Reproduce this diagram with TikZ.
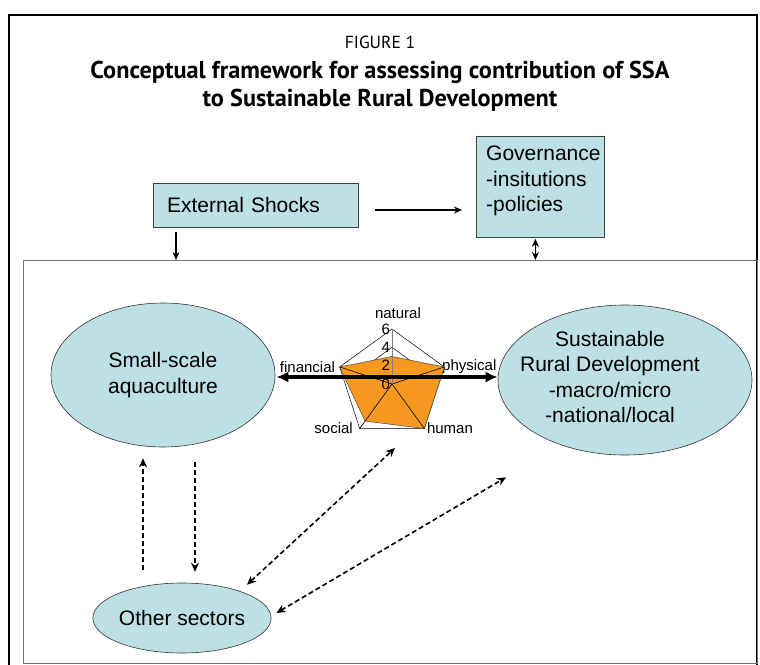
\documentclass[tikz,border=0pt]{standalone}
\usepackage{fontspec}
\setmainfont{Liberation Sans}
\newfontfamily\titlefont{PT Sans}
\usepackage{tikz}
\usetikzlibrary{arrows.meta,shapes.geometric,calc}
\definecolor{boxblue}{RGB}{189,224,228}
\definecolor{radarorange}{RGB}{247,152,32}
\newcommand\bodytext{\fontsize{21}{25.5}\selectfont}

\begin{document}
\begin{tikzpicture}[x=1pt,y=-1pt,
  box/.style={draw=black!75,fill=boxblue,line width=0.8pt},
  oval/.style={ellipse,draw=black!80,fill=boxblue,line width=0.6pt,inner sep=0pt,align=center,font=\bodytext},
  arr/.style={-{Stealth[length=8pt,width=7pt]},line width=1.4pt},
  flow/.style={dash pattern=on 5pt off 3pt,line width=1.6pt},
  bigarr/.style={{Latex[length=12pt,width=11pt]}-{Latex[length=12pt,width=11pt]},line width=3.5pt},
  axlab/.style={font=\fontsize{15}{15}\selectfont,inner sep=0pt}]
\useasboundingbox (0,0) rectangle (760,664);
\draw[line width=1.8pt] (9,680) -- (9,15) -- (757,15) -- (757,680);
\node[font=\titlefont\fontsize{17.5}{23}\selectfont] (fig) at (380,42) {FIGURE 1};
\node[font=\titlefont\bfseries\fontsize{24.3}{28}\selectfont,align=center] (title) at (380,86)
  {Conceptual framework for assessing contribution of SSA\\to Sustainable Rural Development};
\node[draw=black!55,line width=1pt,anchor=north west,minimum width=734pt,minimum height=403pt,inner sep=0pt] (frame) at (23,260) {};

\node[box,minimum width=205pt,minimum height=44pt,text width=177pt,inner xsep=14pt,align=left,font=\bodytext] (shocks) at (255.5,205) {External Shocks};
\node[box,anchor=north west,minimum width=128pt,minimum height=101pt] (gov) at (476,136) {};
\node[anchor=west,align=left,inner sep=0pt,font=\bodytext] (govtext) at (486,181) {Governance\\-insitutions\\-policies};

\node[oval,minimum width=224pt,minimum height=144pt] (ssa) at (163,375) {Small-scale\\aquaculture};
\node[oval,minimum width=254pt,minimum height=150pt] (srd) at (625,380) {};
\node[align=center,inner sep=0pt,font=\bodytext] (srdtext) at (610,377) {Sustainable\\Rural Development\\-macro/micro\\-national/local};
\node[oval,minimum width=160pt,minimum height=70pt] (oth) at (182,618) {Other sectors};

\coordinate (radar) at (392,384);
\begin{scope}[shift={(radar)},x=9.17pt,y=9.17pt]
  \node[axlab] (natural) at (0.65,7.75) {natural};
  \node[axlab,anchor=east] (financial) at (-6.2,1.85) {financial};
  \node[axlab,anchor=west] (physical) at (5.45,1.85) {physical};
  \node[axlab,anchor=east] (social) at (-4.25,-4.8) {social};
  \node[axlab,anchor=west] (human) at (3.8,-4.8) {human};
  \foreach \r in {2,4,6}
    \draw[line width=0.5pt] (90:\r) -- (18:\r) -- (-54:\r) -- (-126:\r) -- (162:\r) -- cycle;
  \draw[fill=radarorange,draw=black!70,line width=0.5pt] (90:3) -- (18:6) -- (-54:6) -- (-126:5) -- (162:6) -- cycle;
  \foreach \a in {18,-54,-126,162}
    \draw[line width=0.6pt] (0,0) -- (\a:6);
  \draw[gray,line width=0.8pt] (0,0) -- (90:6);
  \foreach \v in {0,2,4,6}
    \node[axlab,anchor=east] (tick\v) at (-0.2,\v) {\v};
\end{scope}

\draw[bigarr] ($(ssa.east)+(1,2)$) -- ($(ssa.east -| srd.west)+(0,2)$);
\draw[arr] ($(shocks.east)+(17,5)$) -- ($(shocks.east -| gov.west)+(-14,5)$);
\draw[arr] ($(shocks.south)+(-79.5,5)$) -- ($(shocks.south |- frame.north)+(-79.5,0)$);
\draw[arr,{Stealth[length=8pt,width=7pt]}-{Stealth[length=8pt,width=7pt]}] ($(gov.south)+(-5,1)$) -- ($(gov.south |- frame.north)+(-5,0)$);
\draw[flow,-{Stealth[length=9pt,width=8pt]}] ($(oth.north)+(-39,-13)$) -- ($(ssa.south)+(-20,11)$);
\draw[flow,-{Stealth[length=9pt,width=8pt]}] ($(ssa.south)+(32,15)$) -- ($(oth.north)+(13,-11)$);
\draw[flow,{Stealth[length=9pt,width=8pt]}-{Stealth[length=9pt,width=8pt]}] ($(oth.north)+(65,2)$) -- ($(radar)+(3,64)$);
\draw[flow,{Stealth[length=9pt,width=8pt]}-{Stealth[length=9pt,width=8pt]}] ($(oth.east)+(5,-5)$) -- ($(srd.south)+(-119,22)$);
\end{tikzpicture}
\end{document}
